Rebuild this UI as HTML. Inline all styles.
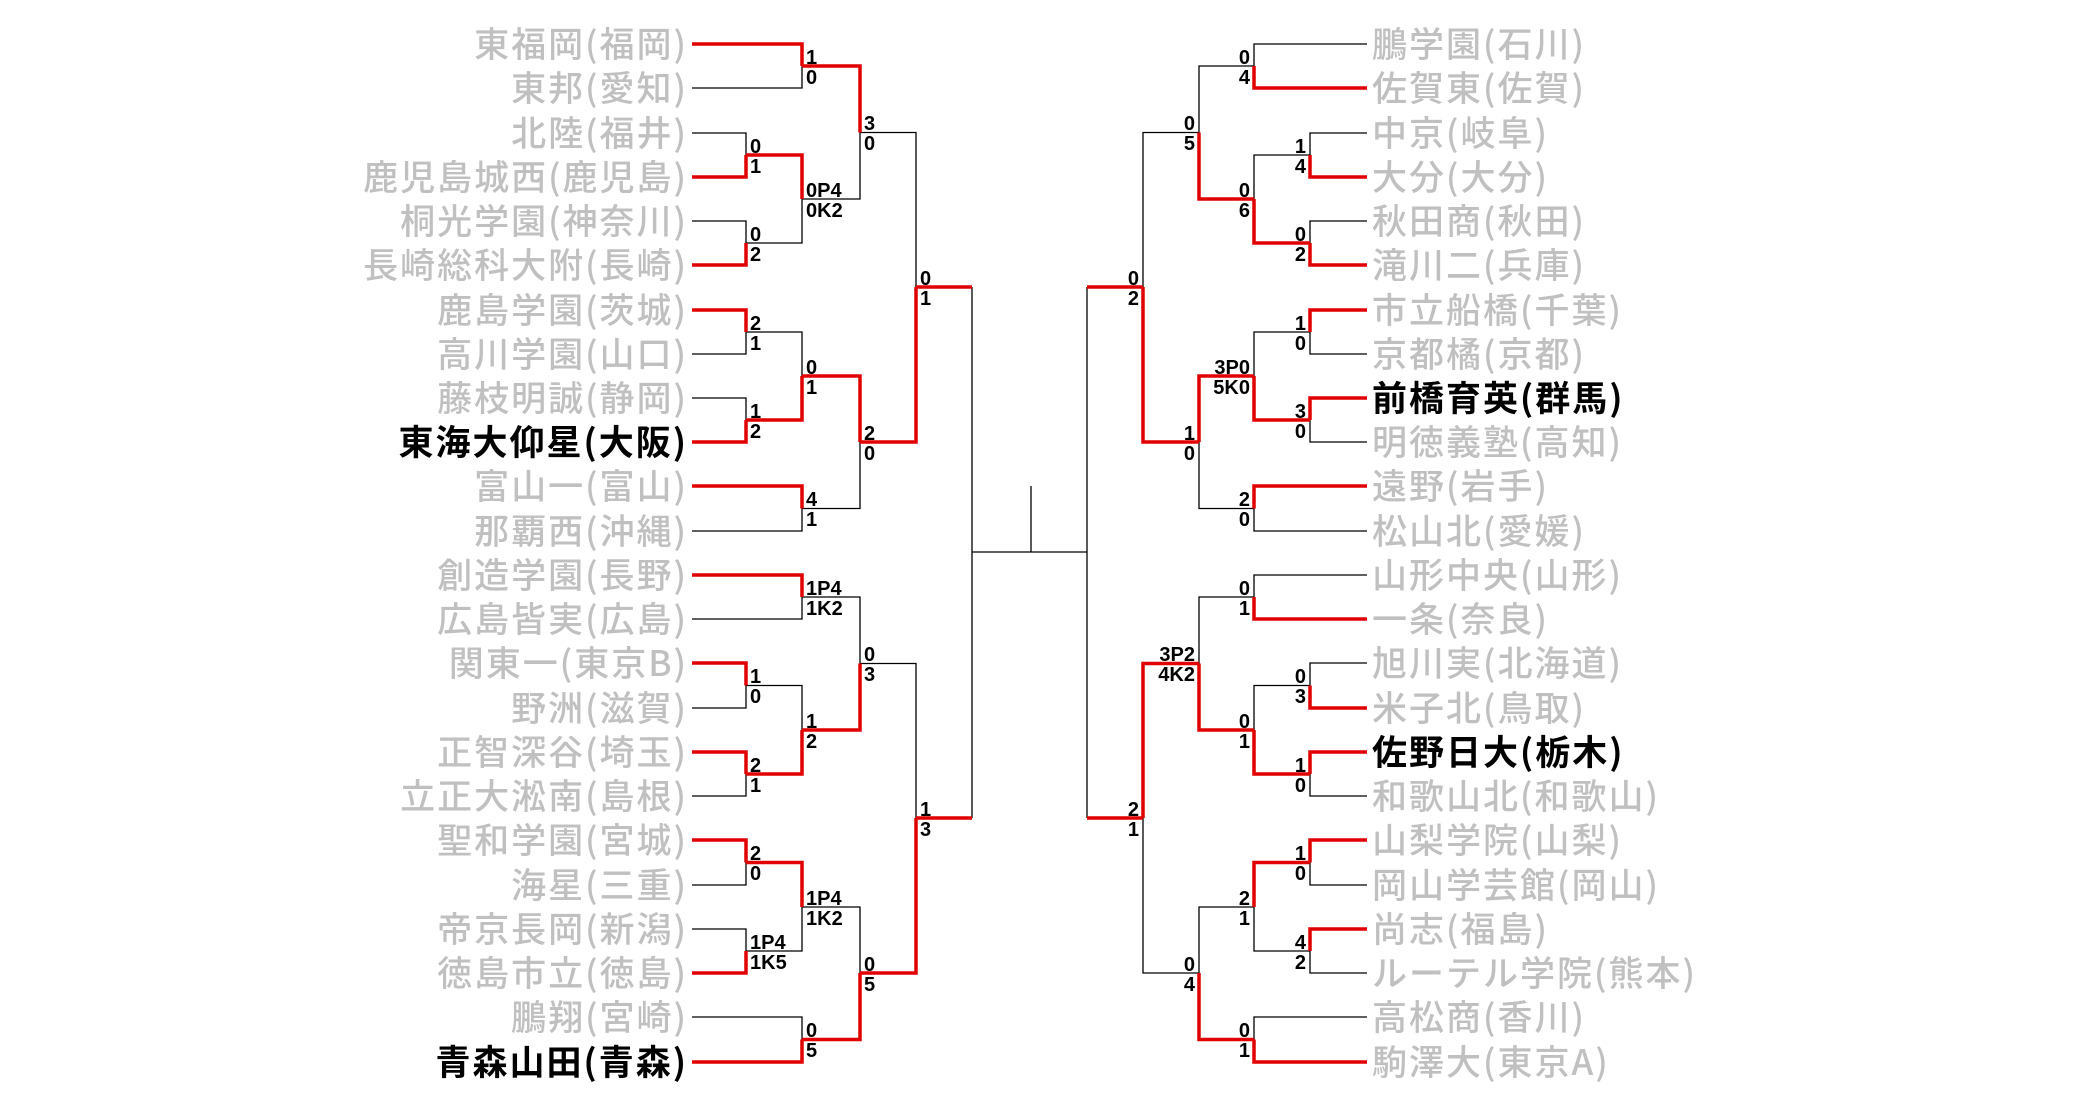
<!DOCTYPE html>
<html><head><meta charset="utf-8"><style>
html,body{margin:0;padding:0;background:#fff;}
svg{display:block}
.n{font-family:"Noto Sans CJK JP",sans-serif;font-size:35px;font-weight:500;fill:#c0c0c0;letter-spacing:2px}
.b{fill:#000;font-weight:700}
.s{font-family:"Liberation Sans",sans-serif;font-size:20px;font-weight:700;fill:#000}
.e{text-anchor:end}
</style></head><body>
<svg width="2075" height="1097" viewBox="0 0 2075 1097" xmlns="http://www.w3.org/2000/svg">
<g fill="none" stroke="#000" stroke-width="1.3">
<path d="M692 88H802V66M692 133H746V155M692 221H746V243M746 243H802V199M802 199H860V132.5M692 354H746V332M692 398H746V420M746 332H802V376M692 531H802V508.5M802 508.5H860V442M860 132.5H916V287M692 619H802V597M692 708H746V685.5M692 796H746V774M746 685.5H802V730M802 597H860V663.5M692 885H746V862.5M692 929H746V951M746 951H802V907M692 1017H802V1039.5M802 907H860V973M860 663.5H916V818"/>
<path d="M1367 44H1254V66M1367 133H1310V155M1367 221H1310V243M1310 155H1254V199M1254 66H1199V132.5M1367 354H1310V332M1367 442H1310V420M1310 332H1254V376M1367 531H1254V508.5M1254 508.5H1199V442M1199 132.5H1143V287M1367 575H1254V597M1367 663H1310V685.5M1367 796H1310V774M1310 685.5H1254V730M1254 597H1199V663.5M1367 885H1310V862.5M1367 973H1310V951M1310 951H1254V907M1367 1017H1254V1039.5M1254 907H1199V973M1199 973H1143V818"/>
<path d="M972 287V818M972 552H1087M1031 486V552M1087 287V818"/>
</g>
<g fill="none" stroke="#e00000" stroke-width="3.5">
<path d="M692 44H802V66M692 177H746V155M692 265H746V243M746 155H802V199M802 66H860V132.5M692 310H746V332M692 442H746V420M746 420H802V376M692 486H802V508.5M802 376H860V442M860 442H916V287M692 575H802V597M692 663H746V685.5M692 752H746V774M746 774H802V730M802 730H860V663.5M692 840H746V862.5M692 973H746V951M746 862.5H802V907M692 1062H802V1039.5M802 1039.5H860V973M860 973H916V818"/>
<path d="M1367 88H1254V66M1367 177H1310V155M1367 265H1310V243M1310 243H1254V199M1254 199H1199V132.5M1367 310H1310V332M1367 398H1310V420M1310 420H1254V376M1367 486H1254V508.5M1254 376H1199V442M1199 442H1143V287M1367 619H1254V597M1367 708H1310V685.5M1367 752H1310V774M1310 774H1254V730M1254 730H1199V663.5M1367 840H1310V862.5M1367 929H1310V951M1310 862.5H1254V907M1367 1062H1254V1039.5M1254 1039.5H1199V973M1199 663.5H1143V818"/>
<path d="M916 287H972M916 818H972M1143 287H1087M1143 818H1087"/>
</g>
<g class="n e">
<text x="688" y="57">東福岡(福岡)</text>
<text x="688" y="101">東邦(愛知)</text>
<text x="688" y="146">北陸(福井)</text>
<text x="688" y="190">鹿児島城西(鹿児島)</text>
<text x="688" y="234">桐光学園(神奈川)</text>
<text x="688" y="278">長崎総科大附(長崎)</text>
<text x="688" y="323">鹿島学園(茨城)</text>
<text x="688" y="367">高川学園(山口)</text>
<text x="688" y="411">藤枝明誠(静岡)</text>
<text x="688" y="455" class="b">東海大仰星(大阪)</text>
<text x="688" y="499">富山一(富山)</text>
<text x="688" y="544">那覇西(沖縄)</text>
<text x="688" y="588">創造学園(長野)</text>
<text x="688" y="632">広島皆実(広島)</text>
<text x="688" y="676">関東一(東京B)</text>
<text x="688" y="721">野洲(滋賀)</text>
<text x="688" y="765">正智深谷(埼玉)</text>
<text x="688" y="809">立正大淞南(島根)</text>
<text x="688" y="853">聖和学園(宮城)</text>
<text x="688" y="898">海星(三重)</text>
<text x="688" y="942">帝京長岡(新潟)</text>
<text x="688" y="986">徳島市立(徳島)</text>
<text x="688" y="1030">鵬翔(宮崎)</text>
<text x="688" y="1075" class="b">青森山田(青森)</text>
</g>
<g class="n">
<text x="1372" y="57">鵬学園(石川)</text>
<text x="1372" y="101">佐賀東(佐賀)</text>
<text x="1372" y="146">中京(岐阜)</text>
<text x="1372" y="190">大分(大分)</text>
<text x="1372" y="234">秋田商(秋田)</text>
<text x="1372" y="278">滝川二(兵庫)</text>
<text x="1372" y="323">市立船橋(千葉)</text>
<text x="1372" y="367">京都橘(京都)</text>
<text x="1372" y="411" class="b">前橋育英(群馬)</text>
<text x="1372" y="455">明徳義塾(高知)</text>
<text x="1372" y="499">遠野(岩手)</text>
<text x="1372" y="544">松山北(愛媛)</text>
<text x="1372" y="588">山形中央(山形)</text>
<text x="1372" y="632">一条(奈良)</text>
<text x="1372" y="676">旭川実(北海道)</text>
<text x="1372" y="721">米子北(鳥取)</text>
<text x="1372" y="765" class="b">佐野日大(栃木)</text>
<text x="1372" y="809">和歌山北(和歌山)</text>
<text x="1372" y="853">山梨学院(山梨)</text>
<text x="1372" y="898">岡山学芸館(岡山)</text>
<text x="1372" y="942">尚志(福島)</text>
<text x="1372" y="986">ルーテル学院(熊本)</text>
<text x="1372" y="1030">高松商(香川)</text>
<text x="1372" y="1075">駒澤大(東京A)</text>
</g>
<g class="s">
<text x="806" y="64">1</text><text x="806" y="84">0</text>
<text x="750" y="153">0</text><text x="750" y="173">1</text>
<text x="750" y="241">0</text><text x="750" y="261">2</text>
<text x="806" y="197">0P4</text><text x="806" y="217">0K2</text>
<text x="864" y="130">3</text><text x="864" y="150">0</text>
<text x="750" y="330">2</text><text x="750" y="350">1</text>
<text x="750" y="418">1</text><text x="750" y="438">2</text>
<text x="806" y="374">0</text><text x="806" y="394">1</text>
<text x="806" y="506">4</text><text x="806" y="526">1</text>
<text x="864" y="440">2</text><text x="864" y="460">0</text>
<text x="920" y="285">0</text><text x="920" y="305">1</text>
<text x="806" y="595">1P4</text><text x="806" y="615">1K2</text>
<text x="750" y="683">1</text><text x="750" y="703">0</text>
<text x="750" y="772">2</text><text x="750" y="792">1</text>
<text x="806" y="728">1</text><text x="806" y="748">2</text>
<text x="864" y="661">0</text><text x="864" y="681">3</text>
<text x="750" y="860">2</text><text x="750" y="880">0</text>
<text x="750" y="949">1P4</text><text x="750" y="969">1K5</text>
<text x="806" y="905">1P4</text><text x="806" y="925">1K2</text>
<text x="806" y="1037">0</text><text x="806" y="1057">5</text>
<text x="864" y="971">0</text><text x="864" y="991">5</text>
<text x="920" y="816">1</text><text x="920" y="836">3</text>
</g>
<g class="s e">
<text x="1250" y="64">0</text><text x="1250" y="84">4</text>
<text x="1306" y="153">1</text><text x="1306" y="173">4</text>
<text x="1306" y="241">0</text><text x="1306" y="261">2</text>
<text x="1250" y="197">0</text><text x="1250" y="217">6</text>
<text x="1195" y="130">0</text><text x="1195" y="150">5</text>
<text x="1306" y="330">1</text><text x="1306" y="350">0</text>
<text x="1306" y="418">3</text><text x="1306" y="438">0</text>
<text x="1250" y="374">3P0</text><text x="1250" y="394">5K0</text>
<text x="1250" y="506">2</text><text x="1250" y="526">0</text>
<text x="1195" y="440">1</text><text x="1195" y="460">0</text>
<text x="1139" y="285">0</text><text x="1139" y="305">2</text>
<text x="1250" y="595">0</text><text x="1250" y="615">1</text>
<text x="1306" y="683">0</text><text x="1306" y="703">3</text>
<text x="1306" y="772">1</text><text x="1306" y="792">0</text>
<text x="1250" y="728">0</text><text x="1250" y="748">1</text>
<text x="1195" y="661">3P2</text><text x="1195" y="681">4K2</text>
<text x="1306" y="860">1</text><text x="1306" y="880">0</text>
<text x="1306" y="949">4</text><text x="1306" y="969">2</text>
<text x="1250" y="905">2</text><text x="1250" y="925">1</text>
<text x="1250" y="1037">0</text><text x="1250" y="1057">1</text>
<text x="1195" y="971">0</text><text x="1195" y="991">4</text>
<text x="1139" y="816">2</text><text x="1139" y="836">1</text>
</g>
</svg>
</body></html>
